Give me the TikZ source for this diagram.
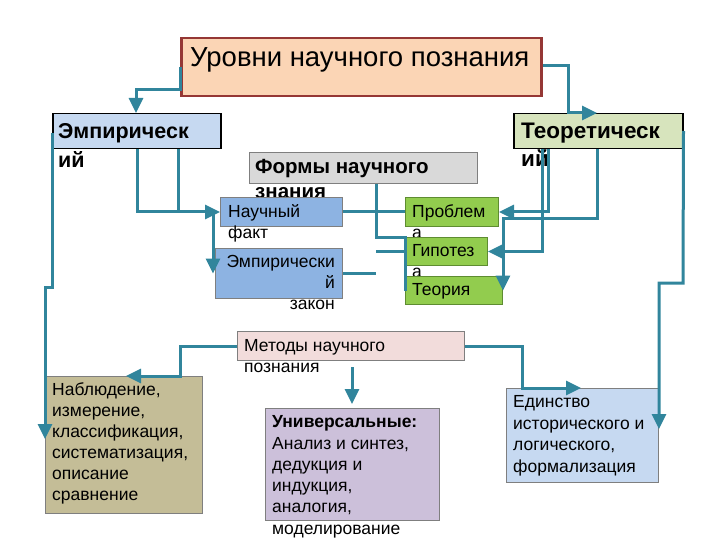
\documentclass[tikz,border=0pt]{standalone}
\usepackage{fontspec}
\setmainfont{Liberation Sans}
\usetikzlibrary{arrows.meta}
\definecolor{teal1}{HTML}{31859C}
\definecolor{peach}{HTML}{FBD5B5}
\definecolor{darkred}{HTML}{953735}
\definecolor{lblue}{HTML}{C6D9F1}
\definecolor{lgreen}{HTML}{D7E4BD}
\definecolor{lgray}{HTML}{D9D9D9}
\definecolor{mblue}{HTML}{8DB3E2}
\definecolor{mgreen}{HTML}{92CC4E}
\definecolor{dgreen}{HTML}{5E8C31}
\definecolor{pink1}{HTML}{F2DCDB}
\definecolor{khaki}{HTML}{C4BD97}
\definecolor{lav}{HTML}{CCC0DA}
\definecolor{bgray}{HTML}{7F7F7F}
\tikzset{
  boxx/.style={draw, anchor=north west, inner sep=0pt, line width=1.5pt},
  txt/.style={anchor=north west, inner sep=0pt, align=left},
  fs/.style={font=\fontsize{17.5}{21}\selectfont},
  conn/.style={draw=teal1, line width=3pt},
  arr/.style={conn, -{Triangle[length=15pt,width=14pt]}},
}
\begin{document}
\begin{tikzpicture}[x=1pt,y=-1pt]
\useasboundingbox (0,0) rectangle (720,540);
% boxes and texts
\node[boxx, fill=peach, draw=darkred, line width=2.5pt, minimum width=360pt, minimum height=58pt] (title) at (180,37) {};
\node[txt, font=\fontsize{27.5}{30}\selectfont] (titleT) at (190,47.5) {Уровни научного познания};

\node[boxx, fill=lblue, draw=black, minimum width=168pt, minimum height=35pt] (emp) at (52,113) {};
\node[txt, font=\fontsize{21.5}{29}\selectfont\bfseries] (empT) at (58,123) {Эмпирическ\\ий};

\node[boxx, fill=lgreen, draw=black, minimum width=169pt, minimum height=35pt] (teor) at (513,113) {};
\node[txt, font=\fontsize{22.5}{28}\selectfont\bfseries] (teorT) at (521,122.5) {Теоретическ\\ий};

\node[boxx, fill=lgray, draw=bgray, line width=1pt, minimum width=228pt, minimum height=31pt] (forms) at (249,152) {};
\node[txt, font=\fontsize{20.5}{25}\selectfont\bfseries] (formsT) at (255,159.5) {Формы научного\\знания};

\node[boxx, fill=mblue, draw=bgray, line width=1pt, minimum width=122pt, minimum height=29pt] (fact) at (220,197) {};
\node[txt, fs] (factT) at (228,204.5) {Научный\\факт};

\node[boxx, fill=mblue, draw=bgray, line width=1pt, minimum width=127pt, minimum height=50pt] (law) at (215,248) {};
\node[anchor=north east, inner sep=0pt, align=right, fs] (lawT) at (335,255.5) {Эмпирически\\й\\закон};

\node[boxx, fill=mgreen, draw=dgreen, line width=1pt, minimum width=93pt, minimum height=29pt] (prob) at (405,197) {};
\node[txt, fs] (probT) at (412,204.5) {Проблем\\а};

\node[boxx, fill=mgreen, draw=dgreen, line width=1pt, minimum width=82pt, minimum height=28pt] (hyp) at (405,237) {};
\node[txt, fs] (hypT) at (412,244.5) {Гипотез\\а};

\node[boxx, fill=mgreen, draw=dgreen, line width=1pt, minimum width=97pt, minimum height=28pt] (theory) at (405,276) {};
\node[txt, fs] (theoryT) at (412,283.5) {Теория};

\node[boxx, fill=pink1, draw=bgray, line width=1pt, minimum width=227pt, minimum height=29pt] (methods) at (237,331) {};
\node[txt, font=\fontsize{17.5}{20.5}\selectfont] (methodsT) at (244,339.5) {Методы научного\\познания};

\node[boxx, fill=khaki, draw=bgray, line width=1pt, minimum width=157pt, minimum height=137pt] (obs) at (45,376) {};
\node[txt, font=\fontsize{17.5}{21}\selectfont] (obsT) at (52,382.5) {Наблюдение,\\измерение,\\классификация,\\систематизация,\\описание\\сравнение};

\node[boxx, fill=lav, draw=bgray, line width=1pt, minimum width=174pt, minimum height=112pt] (univ) at (265,408) {};
\node[txt, font=\fontsize{17.5}{21.3}\selectfont] (univT) at (272,415.5) {\textbf{Универсальные:}\\Анализ и синтез,\\дедукция и\\индукция,\\аналогия,\\моделирование};

\node[boxx, fill=lblue, draw=bgray, line width=1pt, minimum width=152pt, minimum height=94pt] (unity) at (506,388) {};
\node[txt, font=\fontsize{17.5}{21.5}\selectfont] (unityT) at (513,395.5) {Единство\\исторического и\\логического,\\формализация};

% connectors
\coordinate (mstart) at (352,367);
\draw[arr] (title.west |- 0,67) -- (title.west |- 0,90) -- (136,90) -- (emp.north -| 136,0);
\draw[arr] (title.east |- 0,66) -| (teor.north -| 568,0) -- (teor.north -| 597,0);
\draw[arr] (emp.west |- 0,133) -- (emp.west |- 0,287) -- (obs.west |- 0,287) -- (obs.west |- 0,439);
\draw[arr] (emp.south -| 137,0) |- (fact.west);
\draw[conn] (emp.south -| 178,0) -- (fact.west -| 178,0);
\draw[arr] (fact.west -| 213,0) -- (law.north -| 213,0) -- (law.west -| 213,0);
\draw[conn] (fact.east) -- (prob.west);
\draw[conn] (forms.south -| 376,0) |- (hyp.north west) -- (theory.west);
\draw[conn] (hyp.west -| 376,0) -- (hyp.west);
\draw[conn] (law.east) -- (law.east -| 376,0);
\draw[arr] (teor.south -| 548,0) |- (prob.east);
\draw[arr] (teor.south -| 597,0) -- (597,219) -- (503,219) -- (theory.east -| 503,0);
\draw[arr] (teor.south -| 542,0) |- (hyp.east);
\draw[arr] (teor.east |- 0,131) -- (683,283) -- (unity.east |- 0,283) -- (unity.east |- 0,429);
\draw[arr] (methods.west) -| (obs.north -| 180,0) -- (obs.north -| 126,0);
\draw[arr, shorten >=4pt] (mstart) -- (univ.north -| mstart);
\draw[arr] (methods.east) -| (unity.north -| 522,0) -- (unity.north -| 581,0);
\end{tikzpicture}
\end{document}
